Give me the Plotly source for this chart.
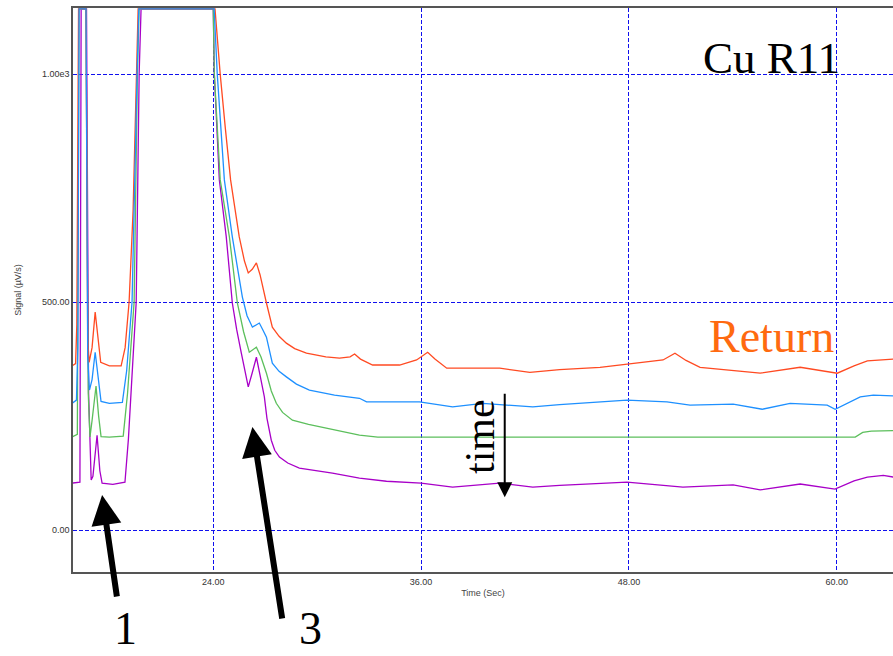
import plotly.graph_objects as go

# ---------------- data ----------------
SAT = 1143  # detector saturation (flat top)

t_red = [15.85, 16.05, 16.12, 16.22, 16.65, 16.75, 16.83, 17.0, 17.18, 17.35, 17.5, 18.0, 18.68,
         18.91, 19.14, 19.37, 19.55, 19.66, 24.1, 24.25, 24.4, 24.7, 25.0, 25.5, 25.8, 26.02, 26.25,
         26.49, 26.7, 27.07, 27.41, 27.8, 28.22, 28.7, 29.38, 30.5, 31.29, 31.9, 32.16, 32.5, 33.2,
         34.76, 35.74, 36.38, 36.8, 37.48, 40.54, 42.28, 44.0, 46.33, 48.06, 49.97, 50.66, 51.3,
         52.11, 55.58, 57.89, 60.03, 61.0, 61.77, 63.3]
v_red = [360, 365, 450, SAT, SAT, 420, 368, 400, 478, 420, 368, 360, 360,
         400, 500, 700, 1000, SAT, SAT, 1060, 1000, 880, 768, 643, 590, 564, 572,
         586, 560, 498, 445, 425, 410, 398, 388, 380, 377, 380, 386, 375, 362,
         362, 373, 390, 375, 355, 355, 346, 352, 357, 364, 373, 388, 372,
         357, 344, 357, 344, 360, 371, 375]

t_blue = [15.85, 16.1, 16.18, 16.25, 16.65, 16.75, 16.85, 17.0, 17.18, 17.35, 17.52, 18.0, 18.75,
          19.0, 19.31, 19.6, 19.7, 24.05, 24.23, 24.64, 25.1, 25.68, 25.95, 26.26, 26.5, 26.66,
          26.85, 27.07, 27.41, 27.8, 28.22, 28.8, 29.55, 31.0, 32.44, 32.85, 35.91, 37.82, 39.56,
          42.45, 44.0, 47.89, 50.2, 51.53, 54.02, 55.7, 57.31, 59.45, 59.91, 61.0, 61.36, 62.11,
          63.3]
v_blue = [278, 285, 400, SAT, SAT, 380, 307, 330, 390, 330, 282, 278, 280,
          350, 500, 1000, SAT, SAT, 1000, 768, 643, 511, 470, 445, 450, 454,
          440, 423, 366, 348, 336, 320, 307, 296, 289, 281, 281, 270, 278,
          270, 275, 285, 281, 274, 276, 265, 278, 274, 265, 285, 292, 296,
          294]

t_green = [15.85, 16.15, 16.25, 16.65, 16.78, 16.88, 17.0, 17.23, 17.38, 17.52, 18.0, 18.8, 19.05,
           19.43, 19.62, 19.72, 24.0, 24.06, 24.4, 24.93, 25.39, 25.75, 26.08, 26.3, 26.49, 26.75,
           27.07, 27.35, 27.64, 28.0, 28.57, 29.5, 30.54, 32.44, 33.5, 61.07, 61.5, 62.0, 63.3]
v_green = [204, 210, SAT, SAT, 300, 204, 240, 316, 250, 205, 204, 206, 300,
           500, 1000, SAT, SAT, 1000, 768, 643, 498, 435, 390, 395, 401, 380,
           344, 305, 278, 258, 241, 232, 224, 208, 204, 204, 214, 217, 218]

t_purple = [15.85, 16.3, 16.37, 16.68, 16.8, 16.95, 17.05, 17.29, 17.45, 17.58, 18.2, 18.9, 19.1,
            19.55, 19.72, 19.83, 24.0, 24.06, 24.35, 24.75, 25.1, 25.35, 25.62, 26.02, 26.25, 26.49,
            26.7, 26.95, 27.1, 27.35, 27.55, 27.82, 28.3, 28.97, 30.88, 32.44, 34.0, 36.0, 37.82,
            40.54, 42.45, 44.0, 47.89, 51.12, 54.02, 55.58, 57.89, 59.9, 61.0, 61.77, 62.69, 63.3]
v_purple = [103, 105, SAT, SAT, 300, 110, 118, 208, 130, 103, 100, 105, 200,
            500, 1000, SAT, SAT, 1000, 768, 643, 498, 440, 388, 314, 345, 379,
            340, 292, 245, 197, 175, 160, 147, 136, 125, 114, 107, 103, 94,
            103, 94, 98, 105, 94, 99, 88, 101, 90, 108, 116, 120, 116]

x_tickvals = [24, 36, 48, 60]
x_ticktext = ["24.00", "36.00", "48.00", "60.00"]
y_tickvals = [0, 500, 1000]
y_ticktext = ["0.00", "500.00", "1.00e3"]

# ---------------- figure ----------------
fig = go.Figure()
series = [
    ("Purple", t_purple, v_purple, "#a800c8"),
    ("Green", t_green, v_green, "#5cbf5c"),
    ("Red", t_red, v_red, "#ff4a22"),
    ("Blue", t_blue, v_blue, "#1e90ff"),
]
for name, t, v, c in series:
    fig.add_trace(go.Scatter(x=t, y=v, mode="lines", name=name,
                             line=dict(color=c, width=1.3), showlegend=False))

grid = dict(showgrid=True, gridcolor="#1010ee", gridwidth=1, griddash="4px,2px",
            zeroline=False, ticks="", showline=True, linecolor="#555555", linewidth=1.5,
            tickfont=dict(family="Liberation Sans, Arial", size=9, color="#333333"))

fig.update_layout(
    width=893, height=656,
    margin=dict(l=73, r=0, t=8, b=84),
    paper_bgcolor="white", plot_bgcolor="white",
    xaxis=dict(range=[15.9, 63.25], tickvals=x_tickvals, ticktext=x_ticktext,
               mirror=True,
               title=dict(text="Time (Sec)", standoff=4,
                          font=dict(family="Liberation Sans, Arial", size=9, color="#444444")),
               **grid),
    yaxis=dict(range=[-92, 1145], tickvals=y_tickvals, ticktext=y_ticktext,
               title=dict(text="Signal (µV/s)", standoff=19,
                          font=dict(family="Liberation Sans, Arial", size=9, color="#444444")),
               **grid),
)

# paper coords: plot area spans page x 73..893, page y 8..572
PX0, PW, PY1, PH = 73, 820, 572, 564


def px(x):
    return (x - PX0) / PW


def py(y):
    return (PY1 - y) / PH


serif = "Liberation Serif, Times New Roman, serif"
fig.add_annotation(xref="paper", yref="paper", x=px(771), y=py(58), text="Cu R11",
                   showarrow=False, font=dict(family=serif, size=45, color="black"),
                   xanchor="center", yanchor="middle")
fig.add_annotation(xref="paper", yref="paper", x=px(771), y=py(336), text="Return",
                   showarrow=False, font=dict(family=serif, size=46, color="#ff6a10"),
                   xanchor="center", yanchor="middle")
fig.add_annotation(xref="paper", yref="paper", x=px(480), y=py(437), text="time",
                   textangle=-90, showarrow=False, font=dict(family=serif, size=42, color="black"),
                   xanchor="center", yanchor="middle")
fig.add_annotation(xref="paper", yref="paper", x=px(125), y=py(628), text="1",
                   showarrow=False, font=dict(family=serif, size=46, color="black"),
                   xanchor="center", yanchor="middle")
fig.add_annotation(xref="paper", yref="paper", x=px(310), y=py(628), text="3",
                   showarrow=False, font=dict(family=serif, size=46, color="black"),
                   xanchor="center", yanchor="middle")

# arrows (tip in data coordinates, tail as pixel offset)
fig.add_annotation(x=17.58, y=77, ax=15, ay=103, text="", showarrow=True,
                   arrowhead=2, arrowwidth=6, arrowsize=1.0, arrowcolor="black")
fig.add_annotation(x=26.26, y=226, ax=30, ay=193, text="", showarrow=True,
                   arrowhead=2, arrowwidth=6, arrowsize=1.0, arrowcolor="black")
fig.add_annotation(x=40.83, y=72, ax=0, ay=-105, text="", showarrow=True,
                   arrowhead=2, arrowwidth=2, arrowsize=1.5, arrowcolor="black")

fig.write_html("out.html",
               config={"displayModeBar": False},
               post_script="document.body.style.margin='0';"
                           "document.body.style.overflow='hidden';")
